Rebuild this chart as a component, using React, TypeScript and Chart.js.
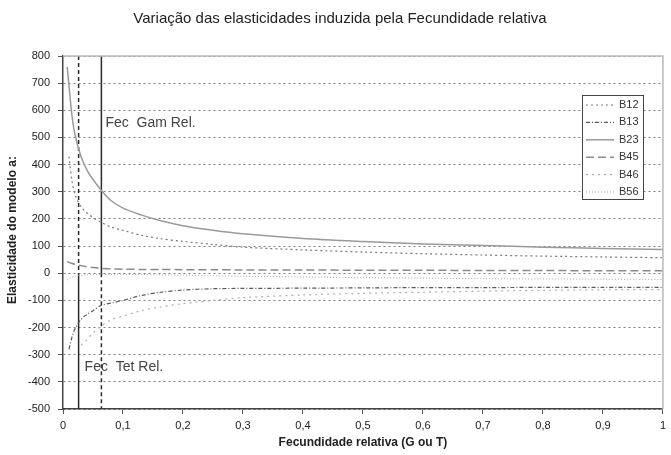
import React, { useEffect, useRef } from "react";
import { Chart, registerables } from "chart.js";

Chart.register(...registerables);

const chartTitle = "Variação das elasticidades induzida pela Fecundidade relativa";
const xTitle = "Fecundidade relativa (G ou T)";
const yTitle = "Elasticidade do modelo a:";

const xValues = [0.007, 0.01, 0.015, 0.02, 0.03, 0.04, 0.05, 0.064, 0.08, 0.1, 0.13, 0.16, 0.2, 0.25, 0.3, 0.4, 0.5, 0.6, 0.7, 0.8, 0.9, 1.0];
const b12 = [null, 430, 340, 290, 245, 222, 205, 187, 170, 158, 140, 128, 117, 106, 96, 86, 78, 72, 67, 63, 60, 57];
const b13 = [null, -280, -235, -205, -170, -152, -138, -118, -110, -100, -82, -71, -62, -57, -56, -55, -54, -53, -53, -52, -52, -52];
const b23 = [760, 690, 580, 510, 430, 380, 345, 305, 268, 240, 215, 195, 175, 158, 145, 128, 117, 108, 102, 96, 91, 87];
const b45 = [42, 40, 36, 33, 28, 24, 21, 18, 16, 15, 14, 14, 13, 13, 12, 12, 11, 11, 10, 10, 9, 9];
const b46 = [null, null, null, null, -265, -245, -220, -195, -172, -158, -138, -125, -112, -100, -90, -80, -74, -70, -66, -63, -61, -60];
const b56 = [-25, -20, -14, -11, -8, -6, -5, -4, -4, -4, -5, -6, -7, -9, -11, -14, -16, -18, -20, -21, -22, -23];

const gamRelX = 0.064;
const tetRelX = 0.026;
const splitY = 0;
const yMin = -500;
const yMax = 800;
const gamLabel = "Fec  Gam Rel.";
const tetLabel = "Fec  Tet Rel.";
const gamLabelY = 552;
const tetLabelY = -346;

const seriesNames = ["B12", "B13", "B23", "B45", "B46", "B56"];
const seriesValues = [b12, b13, b23, b45, b46, b56];
const seriesColors = ["#7a7a7a", "#5a5a5a", "#9a9a9a", "#8a8a8a", "#b0b0b0", "#a8a8a8"];
const seriesDash = [[2, 3], [4, 2, 1, 2], [], [8, 4], [2, 4], [1, 2]];
const seriesWidth = [1.2, 1.2, 1.5, 1.5, 1.2, 1];

const FONT = "'Liberation Sans', Arial, sans-serif";

const decorPlugin = {
  id: "decor",
  afterDraw(chart: any) {
    const { ctx, chartArea, scales } = chart;
    const xs = scales.x;
    const ys = scales.y;
    ctx.save();
    // top and right frame
    ctx.strokeStyle = "#b8b8b8";
    ctx.lineWidth = 1.5;
    ctx.setLineDash([]);
    ctx.beginPath();
    ctx.moveTo(chartArea.left, chartArea.top);
    ctx.lineTo(chartArea.right, chartArea.top);
    ctx.lineTo(chartArea.right, chartArea.bottom);
    ctx.stroke();

    ctx.fillStyle = "#222";
    ctx.textBaseline = "middle";
    // title
    ctx.font = `15px ${FONT}`;
    ctx.textAlign = "center";
    ctx.fillText(chartTitle, 340, 19);
    // x title
    ctx.font = `bold 12px ${FONT}`;
    ctx.fillText(xTitle, (chartArea.left + chartArea.right) / 2, 443);
    // y title
    ctx.save();
    ctx.translate(13, 230);
    ctx.rotate(-Math.PI / 2);
    ctx.fillText(yTitle, 0, 0);
    ctx.restore();

    // vertical line labels
    ctx.font = `14px ${FONT}`;
    ctx.fillStyle = "#444";
    ctx.textAlign = "left";
    ctx.fillText(gamLabel, xs.getPixelForValue(gamRelX) + 4, ys.getPixelForValue(gamLabelY));
    ctx.fillText(tetLabel, xs.getPixelForValue(tetRelX) + 6, ys.getPixelForValue(tetLabelY));

    // legend
    const lx = 582, ly = 95, lw = 61, lh = 104;
    ctx.fillStyle = "#fff";
    ctx.fillRect(lx, ly, lw, lh);
    ctx.strokeStyle = "#444";
    ctx.lineWidth = 1;
    ctx.strokeRect(lx + 0.5, ly + 0.5, lw, lh);
    ctx.font = `11px ${FONT}`;
    seriesNames.forEach((name, i) => {
      const y = ly + 10 + i * 17.4;
      ctx.strokeStyle = seriesColors[i];
      ctx.lineWidth = seriesWidth[i];
      ctx.setLineDash(seriesDash[i]);
      ctx.beginPath();
      ctx.moveTo(lx + 4, y);
      ctx.lineTo(lx + 32, y);
      ctx.stroke();
      ctx.setLineDash([]);
      ctx.fillStyle = "#333";
      ctx.fillText(name, lx + 37, y);
    });
    ctx.restore();
  },
};

export default function App() {
  const ref = useRef<HTMLCanvasElement | null>(null);
  useEffect(() => {
    if (!ref.current) return;
    const datasets: any[] = seriesNames.map((name, i) => ({
      label: name,
      data: xValues.map((x, j) => ({ x, y: seriesValues[i][j] })),
      borderColor: seriesColors[i],
      borderDash: seriesDash[i],
      borderWidth: seriesWidth[i],
      pointRadius: 0,
      fill: false,
      tension: 0.3,
      spanGaps: false,
    }));
    const vline = (x: number, y1: number, y2: number, dash: number[]) => ({
      label: "",
      data: [{ x, y: y1 }, { x, y: y2 }],
      borderColor: "#2a2a2a",
      borderDash: dash,
      borderWidth: 1.5,
      pointRadius: 0,
      fill: false,
    });
    datasets.push(vline(gamRelX, yMax, splitY, []));
    datasets.push(vline(gamRelX, splitY, yMin, [4, 3]));
    datasets.push(vline(tetRelX, yMax, splitY, [4, 3]));
    datasets.push(vline(tetRelX, splitY, yMin, []));

    const chart = new Chart(ref.current, {
      type: "line",
      data: { datasets },
      options: {
        animation: false,
        responsive: false,
        devicePixelRatio: 1,
        parsing: true,
        layout: { padding: { top: 56, right: 3, left: 0, bottom: 0 } },
        plugins: { legend: { display: false }, title: { display: false }, tooltip: { enabled: false } },
        scales: {
          x: {
            type: "linear",
            min: 0,
            max: 1,
            ticks: {
              stepSize: 0.1,
              color: "#222",
              font: { family: FONT, size: 11 },
              padding: 5,
              maxRotation: 0,
              callback: (v: any) => String(Math.round(Number(v) * 10) / 10).replace(".", ","),
            },
            grid: { display: true, drawOnChartArea: false, drawTicks: true, tickLength: 5, color: "#555" },
            border: { display: true, color: "#444", width: 1.5 },
            afterFit: (s: any) => { s.height = 46; },
          },
          y: {
            type: "linear",
            min: yMin,
            max: yMax,
            ticks: {
              stepSize: 100,
              color: "#222",
              font: { family: FONT, size: 11 },
              padding: 8,
            },
            grid: { display: true, drawOnChartArea: true, drawTicks: true, tickLength: 5, color: "#808080", tickColor: "#555", lineWidth: 1 },
            border: { display: true, color: "#444", width: 1.5, dash: [2, 3] },
            afterFit: (s: any) => { s.width = 63; },
          },
        },
      } as any,
      plugins: [decorPlugin],
    });
    return () => chart.destroy();
  }, []);
  return (
    <div style={{ position: "absolute", left: 0, top: 0, width: 671, height: 455, background: "#fff" }}>
      <canvas ref={ref} width={671} height={455} style={{ display: "block", width: 671, height: 455 }} />
    </div>
  );
}
